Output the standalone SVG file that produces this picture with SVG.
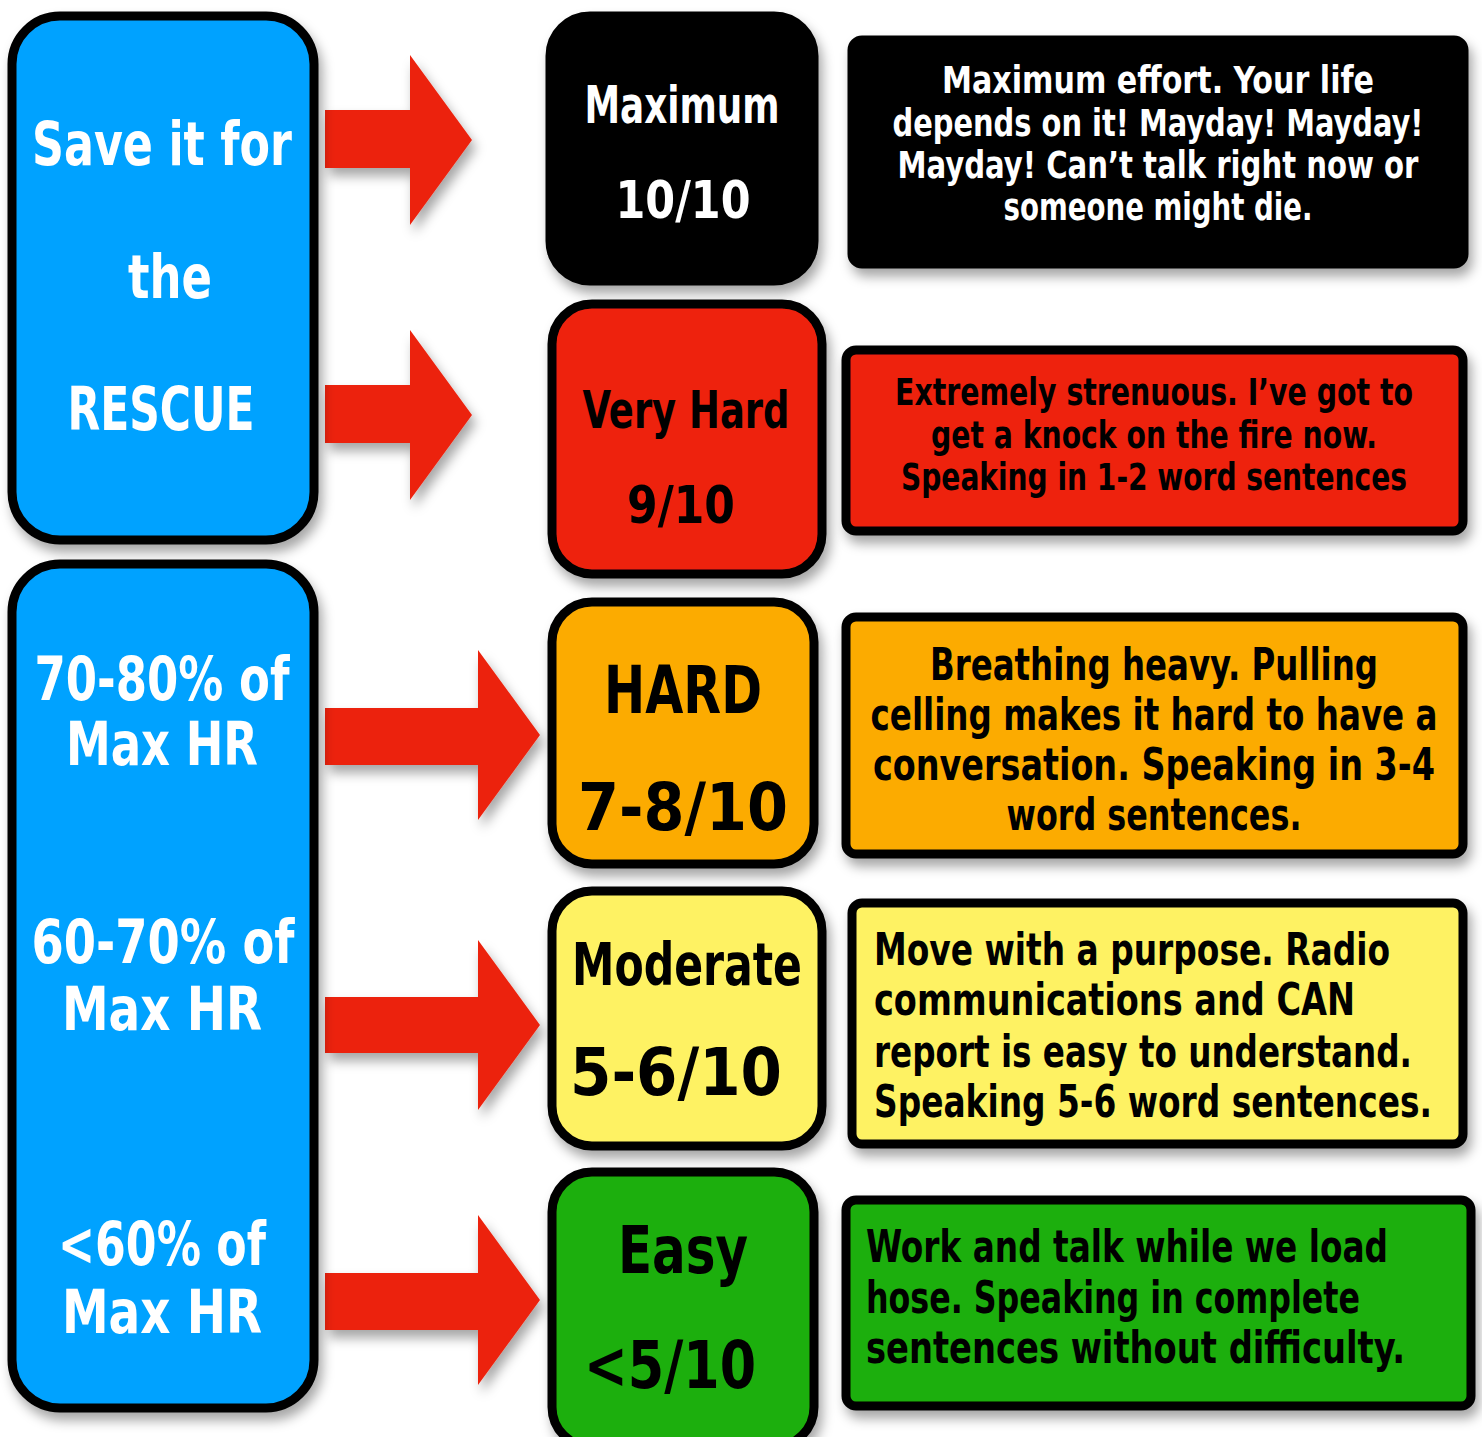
<svg xmlns="http://www.w3.org/2000/svg" width="1482" height="1437" viewBox="0 0 1482 1437">
<defs>
<filter id="sh" x="-10%" y="-10%" width="130%" height="130%">
<feDropShadow dx="4" dy="8" stdDeviation="6" flood-color="#000" flood-opacity="0.35"/>
</filter>
<style>
.box{stroke:#000;stroke-width:9;stroke-linejoin:round}
.dbox{stroke:#000;stroke-width:9;stroke-linejoin:round}
.blue{fill:#00A2FF}
.blk{fill:#000}
.red{fill:#EE2211}
.org{fill:#FCAB00}
.yel{fill:#FEF264}
.grn{fill:#1CAF08}
.arrow{fill:#EC2410}
text{font-family:"Liberation Sans Narrow","DejaVu Sans Condensed","Liberation Sans",sans-serif;font-weight:bold}
.w{fill:#fff}
.k{fill:#000}
.c{text-anchor:middle}
.big{font-size:60px}
.rt{font-size:52px}
.d{font-size:37px}
.d2{font-size:44px}
</style>
</defs>
<g id="connectors" filter="url(#sh)">
<polygon class="arrow" points="325,110 410,110 410,55 472,140 410,225 410,168 325,168"/>
<polygon class="arrow" points="325,385 410,385 410,330 472,415 410,500 410,443 325,443"/>
<polygon class="arrow" points="325,708 478,708 478,650 540,735 478,820 478,765 325,765"/>
<polygon class="arrow" points="325,997 478,997 478,940 540,1025 478,1110 478,1053 325,1053"/>
<polygon class="arrow" points="325,1273 478,1273 478,1215 540,1300 478,1385 478,1330 325,1330"/>
</g>
<g id="rescue">
<rect class="box blue" x="12" y="16" width="302" height="524" rx="48" filter="url(#sh)"/>
<text class="w c big" x="162" y="165" textLength="260" lengthAdjust="spacingAndGlyphs">Save it for</text>
<text class="w c big" x="170" y="298" textLength="84" lengthAdjust="spacingAndGlyphs">the</text>
<text class="w c big" x="161" y="430" textLength="187" lengthAdjust="spacingAndGlyphs">RESCUE</text>
</g>
<g id="hr">
<rect class="box blue" x="12" y="564" width="302" height="844" rx="48" filter="url(#sh)"/>
<text class="w c big" x="162" y="700" textLength="255" lengthAdjust="spacingAndGlyphs">70-80% of</text>
<text class="w c big" x="162" y="765" textLength="192" lengthAdjust="spacingAndGlyphs">Max HR</text>
<text class="w c big" x="163" y="963" textLength="263" lengthAdjust="spacingAndGlyphs">60-70% of</text>
<text class="w c big" x="162" y="1030" textLength="200" lengthAdjust="spacingAndGlyphs">Max HR</text>
<text class="w c big" x="162" y="1265" textLength="208" lengthAdjust="spacingAndGlyphs">&lt;60% of</text>
<text class="w c big" x="162" y="1333" textLength="200" lengthAdjust="spacingAndGlyphs">Max HR</text>
</g>
<g id="maximum">
<rect class="box blk" x="550" y="16" width="264" height="265" rx="40" filter="url(#sh)"/>
<text class="w c rt" x="682" y="123" textLength="195" lengthAdjust="spacingAndGlyphs">Maximum</text>
<text class="w c rt" x="683" y="218" textLength="135" lengthAdjust="spacingAndGlyphs">10/10</text>
</g>
<g id="maximum-desc">
<rect class="dbox blk" x="852" y="40" width="612" height="224" rx="10" filter="url(#sh)"/>
<text class="w c d" x="1158" y="93" textLength="432" lengthAdjust="spacingAndGlyphs">Maximum effort. Your life</text>
<text class="w c d" x="1158" y="136" textLength="531" lengthAdjust="spacingAndGlyphs">depends on it! Mayday! Mayday!</text>
<text class="w c d" x="1158" y="178" textLength="521" lengthAdjust="spacingAndGlyphs">Mayday! Can’t talk right now or</text>
<text class="w c d" x="1158" y="220" textLength="309" lengthAdjust="spacingAndGlyphs">someone might die.</text>
</g>
<g id="veryhard">
<rect class="box red" x="552" y="304" width="270" height="270" rx="40" filter="url(#sh)"/>
<text class="k c rt" x="686" y="428" textLength="207" lengthAdjust="spacingAndGlyphs">Very Hard</text>
<text class="k c rt" x="681" y="523" textLength="108" lengthAdjust="spacingAndGlyphs">9/10</text>
</g>
<g id="veryhard-desc">
<rect class="dbox red" x="846" y="350" width="617" height="181" rx="10" filter="url(#sh)"/>
<text class="k c d" x="1154" y="405" textLength="518" lengthAdjust="spacingAndGlyphs">Extremely strenuous. I’ve got to</text>
<text class="k c d" x="1154" y="448" textLength="446" lengthAdjust="spacingAndGlyphs">get a knock on the fire now.</text>
<text class="k c d" x="1154" y="490" textLength="506" lengthAdjust="spacingAndGlyphs">Speaking in 1-2 word sentences</text>
</g>
<g id="hard">
<rect class="box org" x="552" y="602" width="262" height="262" rx="40" filter="url(#sh)"/>
<text class="k c" x="683" y="713" font-size="66" textLength="158" lengthAdjust="spacingAndGlyphs">HARD</text>
<text class="k c" x="683" y="830" font-size="66" textLength="210" lengthAdjust="spacingAndGlyphs">7-8/10</text>
</g>
<g id="hard-desc">
<rect class="dbox org" x="846" y="617" width="617" height="237" rx="10" filter="url(#sh)"/>
<text class="k c d2" x="1154" y="680" textLength="448" lengthAdjust="spacingAndGlyphs">Breathing heavy. Pulling</text>
<text class="k c d2" x="1154" y="730" textLength="567" lengthAdjust="spacingAndGlyphs">celling makes it hard to have a</text>
<text class="k c d2" x="1154" y="780" textLength="562" lengthAdjust="spacingAndGlyphs">conversation. Speaking in 3-4</text>
<text class="k c d2" x="1154" y="830" textLength="295" lengthAdjust="spacingAndGlyphs">word sentences.</text>
</g>
<g id="moderate">
<rect class="box yel" x="552" y="891" width="270" height="255" rx="40" filter="url(#sh)"/>
<text class="k c" x="687" y="985" font-size="58" textLength="230" lengthAdjust="spacingAndGlyphs">Moderate</text>
<text class="k c" x="676" y="1095" font-size="66" textLength="212" lengthAdjust="spacingAndGlyphs">5-6/10</text>
</g>
<g id="moderate-desc">
<rect class="dbox yel" x="852" y="903" width="611" height="241" rx="10" filter="url(#sh)"/>
<text class="k d2" x="874" y="965" textLength="516" lengthAdjust="spacingAndGlyphs">Move with a purpose. Radio</text>
<text class="k d2" x="874" y="1015" textLength="481" lengthAdjust="spacingAndGlyphs">communications and CAN</text>
<text class="k d2" x="874" y="1067" textLength="538" lengthAdjust="spacingAndGlyphs">report is easy to understand.</text>
<text class="k d2" x="874" y="1117" textLength="558" lengthAdjust="spacingAndGlyphs">Speaking 5-6 word sentences.</text>
</g>
<g id="easy">
<rect class="box grn" x="552" y="1172" width="262" height="275" rx="40" filter="url(#sh)"/>
<text class="k c" x="683" y="1273" font-size="66" textLength="130" lengthAdjust="spacingAndGlyphs">Easy</text>
<text class="k c" x="670" y="1388" font-size="66" textLength="172" lengthAdjust="spacingAndGlyphs">&lt;5/10</text>
</g>
<g id="easy-desc">
<rect class="dbox grn" x="846" y="1200" width="625" height="206" rx="10" filter="url(#sh)"/>
<text class="k d2" x="866" y="1262" textLength="522" lengthAdjust="spacingAndGlyphs">Work and talk while we load</text>
<text class="k d2" x="866" y="1313" textLength="494" lengthAdjust="spacingAndGlyphs">hose. Speaking in complete</text>
<text class="k d2" x="866" y="1363" textLength="539" lengthAdjust="spacingAndGlyphs">sentences without difficulty.</text>
</g>
</svg>
